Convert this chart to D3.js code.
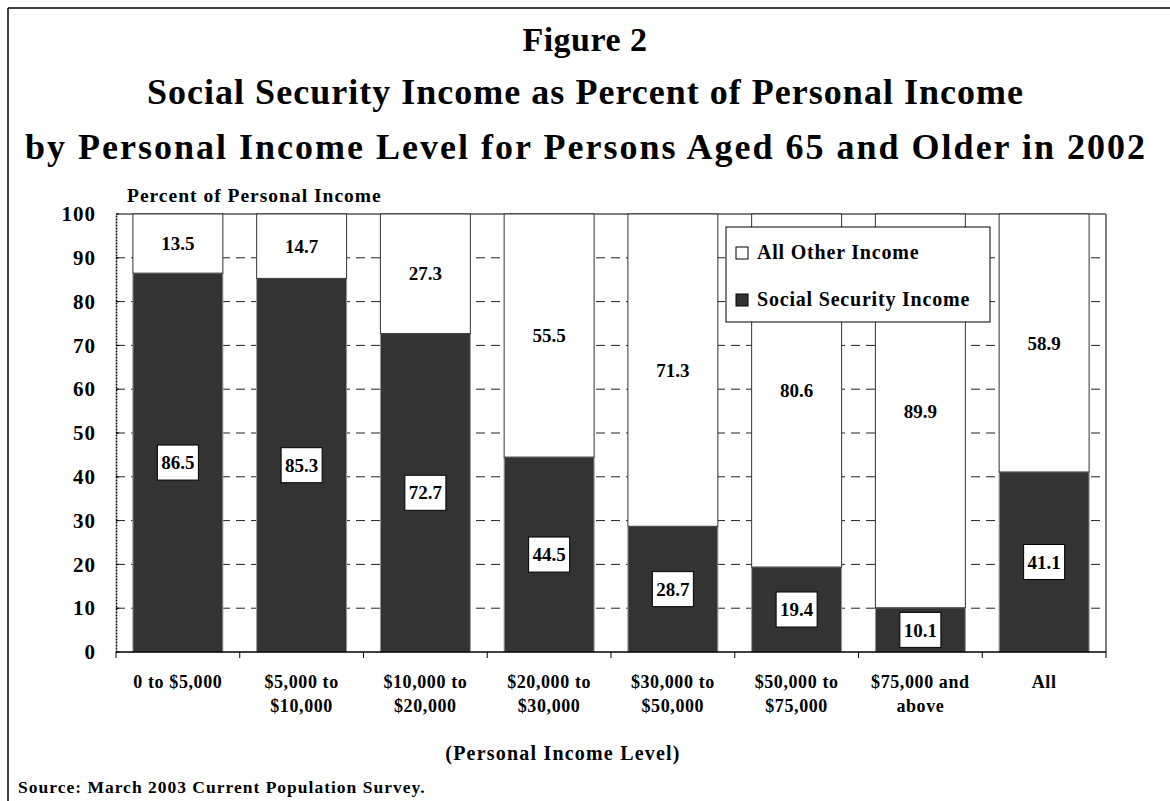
<!DOCTYPE html>
<html><head><meta charset="utf-8">
<script src="https://cdn.jsdelivr.net/npm/d3@7"></script>
<style>
html,body{margin:0;padding:0;background:#fff;}
svg{display:block;}
text{font-family:"Liberation Serif","Times New Roman",serif;font-weight:bold;fill:#000;}
</style></head><body>
<svg id="chart" width="1170" height="801"></svg>
<script>
const categories = ["0 to $5,000", "$5,000 to|$10,000", "$10,000 to|$20,000", "$20,000 to|$30,000",
  "$30,000 to|$50,000", "$50,000 to|$75,000", "$75,000 and|above", "All"];
const socialSecurity = [86.5, 85.3, 72.7, 44.5, 28.7, 19.4, 10.1, 41.1];
const otherIncome = [13.5, 14.7, 27.3, 55.5, 71.3, 80.6, 89.9, 58.9];
const yTicks = [0, 10, 20, 30, 40, 50, 60, 70, 80, 90, 100];
const seriesNames = ["All Other Income", "Social Security Income"];
const titleLines = ["Figure 2", "Social Security Income as Percent of Personal Income",
  "by Personal Income Level for Persons Aged 65 and Older in 2002"];

const svg = d3.select("#chart");
const W = 1170, H = 801;
const m = {left: 116, right: 1106, top: 214, bottom: 652};
const darkFill = "#333333";

// outer frame (left and top only visible)
svg.append("line").attr("x1", 8).attr("x2", 8).attr("y1", 8).attr("y2", H).attr("stroke", "#000").attr("stroke-width", 1.5);
svg.append("line").attr("x1", 8).attr("x2", W).attr("y1", 8).attr("y2", 8).attr("stroke", "#000").attr("stroke-width", 1.5);

// titles
const titleY = [51, 104, 159];
const titleW = [null, 876, 1120];
titleLines.forEach((t, i) => {
  const tt = svg.append("text").attr("x", 585).attr("y", titleY[i]).attr("text-anchor", "middle")
    .attr("font-size", i === 0 ? 34 : 36).text(t);
  if (titleW[i]) tt.attr("textLength", titleW[i]).attr("lengthAdjust", "spacing");
  else tt.attr("letter-spacing", 0.5);
});

const x = d3.scaleBand().domain(categories).range([m.left, m.right]).paddingInner(0.273).paddingOuter(0.1365);
const xb = d3.scaleBand().domain(categories).range([m.left, m.right]).padding(0);
const y = d3.scaleLinear().domain([0, 100]).range([m.bottom, m.top]);

// gridlines
svg.append("g").selectAll("line").data(yTicks.filter(d => d > 0 && d < 100)).join("line")
  .attr("x1", m.left).attr("x2", m.right).attr("y1", d => y(d)).attr("y2", d => y(d))
  .attr("stroke", "#222").attr("stroke-width", 1).attr("stroke-dasharray", "9,6");

// plot frame top and right
svg.append("line").attr("x1", m.left).attr("x2", m.right).attr("y1", m.top).attr("y2", m.top).attr("stroke", "#555").attr("stroke-width", 1.5);
svg.append("line").attr("x1", m.right).attr("x2", m.right).attr("y1", m.top).attr("y2", m.bottom).attr("stroke", "#555").attr("stroke-width", 1.5);

// bars
const g = svg.append("g");
categories.forEach((c, i) => {
  const ss = socialSecurity[i], ot = otherIncome[i];
  g.append("rect").attr("x", x(c)).attr("width", x.bandwidth())
    .attr("y", y(ss)).attr("height", y(0) - y(ss))
    .attr("fill", darkFill).attr("stroke", "#999").attr("stroke-width", 1);
  g.append("rect").attr("x", x(c)).attr("width", x.bandwidth())
    .attr("y", y(ss + ot)).attr("height", y(ss) - y(ss + ot))
    .attr("fill", "#fff").attr("stroke", "#333").attr("stroke-width", 1);
});

// labels
categories.forEach((c, i) => {
  const ss = socialSecurity[i], ot = otherIncome[i];
  const cx = x(c) + x.bandwidth() / 2;
  const cy1 = (y(0) + y(ss)) / 2;
  const t = g.append("text").attr("x", cx).attr("y", cy1).attr("dy", "0.35em")
    .attr("text-anchor", "middle").attr("font-size", 19).text(ss.toFixed(1));
  g.insert("rect", () => t.node()).attr("x", cx - 20.5).attr("y", cy1 - 17.5)
    .attr("width", 41).attr("height", 35).attr("fill", "#fff").attr("stroke", "#000").attr("stroke-width", 1);
  const cy2 = (y(ss) + y(ss + ot)) / 2;
  g.append("text").attr("x", cx).attr("y", cy2).attr("dy", "0.35em")
    .attr("text-anchor", "middle").attr("font-size", 19).text(ot.toFixed(1));
});

// y axis
const yAxis = d3.axisLeft(y).tickValues(yTicks).tickSize(0).tickPadding(20);
const ya = svg.append("g").attr("transform", `translate(${m.left},0)`).call(yAxis);
ya.select(".domain").attr("stroke", "#000").attr("stroke-width", 1.5).attr("stroke-dasharray", "2,1");
ya.selectAll("text").attr("font-size", 21).attr("letter-spacing", 1)
  .attr("font-family", "Liberation Serif").attr("font-weight", "bold").attr("fill", "#000");
svg.append("g").selectAll("line").data(yTicks).join("line")
  .attr("x1", m.left).attr("x2", m.left + 3).attr("y1", d => y(d)).attr("y2", d => y(d)).attr("stroke", "#000");

// x axis
svg.append("line").attr("x1", m.left).attr("x2", m.right).attr("y1", m.bottom).attr("y2", m.bottom).attr("stroke", "#000").attr("stroke-width", 1.5);
const bounds = categories.map(c => xb(c)).concat([m.right]);
svg.append("g").selectAll("line").data(bounds).join("line")
  .attr("x1", d => d).attr("x2", d => d).attr("y1", m.bottom).attr("y2", m.bottom + 6).attr("stroke", "#000");
categories.forEach(c => {
  const lines = c.split("|");
  const t = svg.append("text").attr("x", xb(c) + xb.bandwidth() / 2).attr("y", 688)
    .attr("text-anchor", "middle").attr("font-size", 18).attr("letter-spacing", 0.6);
  lines.forEach((l, j) => t.append("tspan").attr("x", xb(c) + xb.bandwidth() / 2).attr("y", 688 + j * 24).text(l));
});

// axis titles
svg.append("text").attr("x", 127).attr("y", 202).attr("font-size", 19.5).attr("letter-spacing", 1).text("Percent of Personal Income");
svg.append("text").attr("x", 563).attr("y", 760).attr("text-anchor", "middle").attr("font-size", 20).attr("letter-spacing", 1.2).text("(Personal Income Level)");
svg.append("text").attr("x", 18).attr("y", 793).attr("font-size", 17.5).attr("letter-spacing", 1).text("Source: March 2003 Current Population Survey.");

// legend
const lg = svg.append("g");
lg.append("rect").attr("x", 726).attr("y", 227).attr("width", 264).attr("height", 95)
  .attr("fill", "#fff").attr("stroke", "#000").attr("stroke-width", 1);
const lfill = ["#fff", darkFill];
seriesNames.forEach((s, i) => {
  const ly = 259 + i * 47;
  lg.append("rect").attr("x", 736).attr("y", ly - 12).attr("width", 12).attr("height", 12)
    .attr("fill", lfill[i]).attr("stroke", "#000").attr("stroke-width", 1);
  lg.append("text").attr("x", 757).attr("y", ly).attr("font-size", 20).attr("letter-spacing", 0.8).text(s);
});
</script>
</body></html>
